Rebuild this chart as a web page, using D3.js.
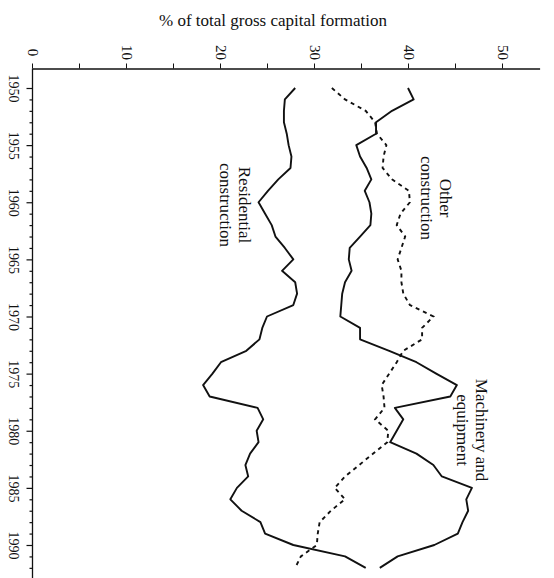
<!DOCTYPE html>
<html>
<head>
<meta charset="utf-8">
<script src="https://cdn.jsdelivr.net/npm/d3@7"></script>
<style>
  html, body { margin: 0; padding: 0; background: #fff; }
  svg { display: block; }
  text { font-family: "Liberation Serif", "Times New Roman", serif; fill: #111; }
</style>
</head>
<body>
<svg id="chart" width="554" height="578"></svg>
<script>
// Shares of total gross capital formation (%), 1950-1992
const years = d3.range(1950, 1993);

const machinery = [
  40.0, 40.6, 38.3, 36.6, 36.6, 34.5, 34.9, 35.6, 36.1, 35.4,
  35.9, 36.1, 36.0, 34.9, 33.8, 33.7, 34.0, 33.3, 33.0, 32.9,
  32.8, 34.9, 34.9, 38.0, 40.9, 43.0, 45.2, 44.5, 38.6, 39.5,
  38.8, 38.1, 40.9, 42.7, 43.6, 46.8, 46.2, 46.4, 45.8, 45.3,
  42.8, 38.9, 37.0
];

const otherConstruction = [
  31.9, 33.3, 35.5, 36.5, 36.7, 37.7, 37.4, 37.3, 38.3, 40.1,
  40.2, 39.2, 38.8, 39.7, 39.3, 38.9, 39.3, 39.3, 39.5, 40.2,
  42.7, 41.5, 41.5, 39.5, 38.8, 38.0, 37.2, 37.4, 37.5, 36.5,
  37.9, 37.8, 36.3, 34.8, 33.3, 32.2, 33.3, 31.8, 30.6, 30.4,
  30.3, 28.6, 28.0
];

const residential = [
  28.0, 26.9, 26.8, 26.8, 27.1, 27.3, 27.6, 27.5, 26.2, 25.1,
  24.1, 24.8, 25.5, 25.9, 26.9, 27.8, 26.6, 28.0, 28.2, 27.8,
  25.0, 24.5, 24.2, 22.8, 20.1, 19.2, 18.2, 18.9, 24.0, 24.6,
  23.9, 24.1, 23.2, 22.7, 23.0, 21.8, 21.1, 22.3, 24.3, 24.8,
  27.8, 33.3, 35.5
];

const valueTicks = d3.range(0, 55, 5);
const valueLabels = [0, 10, 20, 30, 40, 50];
const yearTicks = d3.range(1950, 1993);
const yearLabels = [1950, 1955, 1960, 1965, 1970, 1975, 1980, 1985, 1990];

const svg = d3.select("#chart");

// Values run left to right along the top, years run down the left side
const x = d3.scaleLinear().domain([0, 54]).range([32, 32 + 54 * 9.4]);
const y = d3.scaleLinear().domain([1950, 1990]).range([88, 545]);
const axisTopY = 68.5;
const axisLeftX = 32.5;

// Value axis along the top
const topAxis = svg.append("g")
  .attr("transform", `translate(0,${axisTopY})`)
  .call(d3.axisTop(x)
    .tickValues(valueTicks)
    .tickSize(5)
    .tickSizeOuter(0)
    .tickFormat(d => valueLabels.includes(d) ? d : ""));
topAxis.select(".domain").attr("stroke", "#111").attr("stroke-width", 1.3);
topAxis.selectAll(".tick line").attr("stroke", "#111").attr("stroke-width", 1);
topAxis.selectAll(".tick text")
  .attr("x", 0).attr("y", 0).attr("dy", null)
  .attr("transform", "translate(0,-16) rotate(90)")
  .attr("text-anchor", "middle")
  .attr("dominant-baseline", "central")
  .style("font-family", "'Liberation Serif', serif")
  .style("font-size", "15px")
  .attr("fill", "#111");

// Year axis down the left side
const leftAxis = svg.append("g")
  .attr("transform", `translate(${axisLeftX},0)`)
  .call(d3.axisLeft(y)
    .tickValues(yearTicks)
    .tickSize(3)
    .tickSizeOuter(0)
    .tickFormat(d => yearLabels.includes(d) ? d : ""));
leftAxis.select(".domain").remove();
leftAxis.append("line")
  .attr("x1", 0).attr("x2", 0)
  .attr("y1", axisTopY).attr("y2", 578)
  .attr("stroke", "#111").attr("stroke-width", 1.3);
leftAxis.selectAll(".tick line")
  .attr("stroke", "#111").attr("stroke-width", 1.2)
  .attr("x2", d => yearLabels.includes(d) ? -6 : -3);
leftAxis.selectAll(".tick text")
  .attr("x", 0).attr("y", 0).attr("dy", null)
  .attr("transform", "translate(-19,0) rotate(90)")
  .attr("text-anchor", "middle")
  .attr("dominant-baseline", "central")
  .style("font-family", "'Liberation Serif', serif")
  .style("font-size", "14px")
  .attr("fill", "#111");

// Axis title
svg.append("text")
  .attr("x", 273).attr("y", 26)
  .attr("text-anchor", "middle")
  .style("font-size", "17px")
  .text("% of total gross capital formation");

// Series lines
const line = vals => d3.line()
  .x((d, i) => x(vals[i]))
  .y((d, i) => y(years[i]))(years);

svg.append("path")
  .attr("d", line(residential))
  .attr("fill", "none").attr("stroke", "#111")
  .attr("stroke-width", 1.9).attr("stroke-linejoin", "round");

svg.append("path")
  .attr("d", line(machinery))
  .attr("fill", "none").attr("stroke", "#111")
  .attr("stroke-width", 1.9).attr("stroke-linejoin", "round");

svg.append("path")
  .attr("d", line(otherConstruction))
  .attr("fill", "none").attr("stroke", "#111")
  .attr("stroke-width", 1.9).attr("stroke-dasharray", "4,4");

// Series labels, set along the lines
const seriesLabels = [
  { lines: ["Other", "construction"], cx: 436, cy: 198 },
  { lines: ["Residential", "construction"], cx: 235, cy: 205 },
  { lines: ["Machinery and", "equipment"], cx: 472, cy: 430 }
];
seriesLabels.forEach(lab => {
  const g = svg.append("g")
    .attr("transform", `translate(${lab.cx},${lab.cy}) rotate(90)`);
  lab.lines.forEach((t, i) => {
    g.append("text")
      .attr("x", 0)
      .attr("y", (i - (lab.lines.length - 1) / 2) * 18.5)
      .attr("text-anchor", "middle")
      .attr("dominant-baseline", "central")
      .style("font-size", "17px")
      .text(t);
  });
});
</script>
</body>
</html>
